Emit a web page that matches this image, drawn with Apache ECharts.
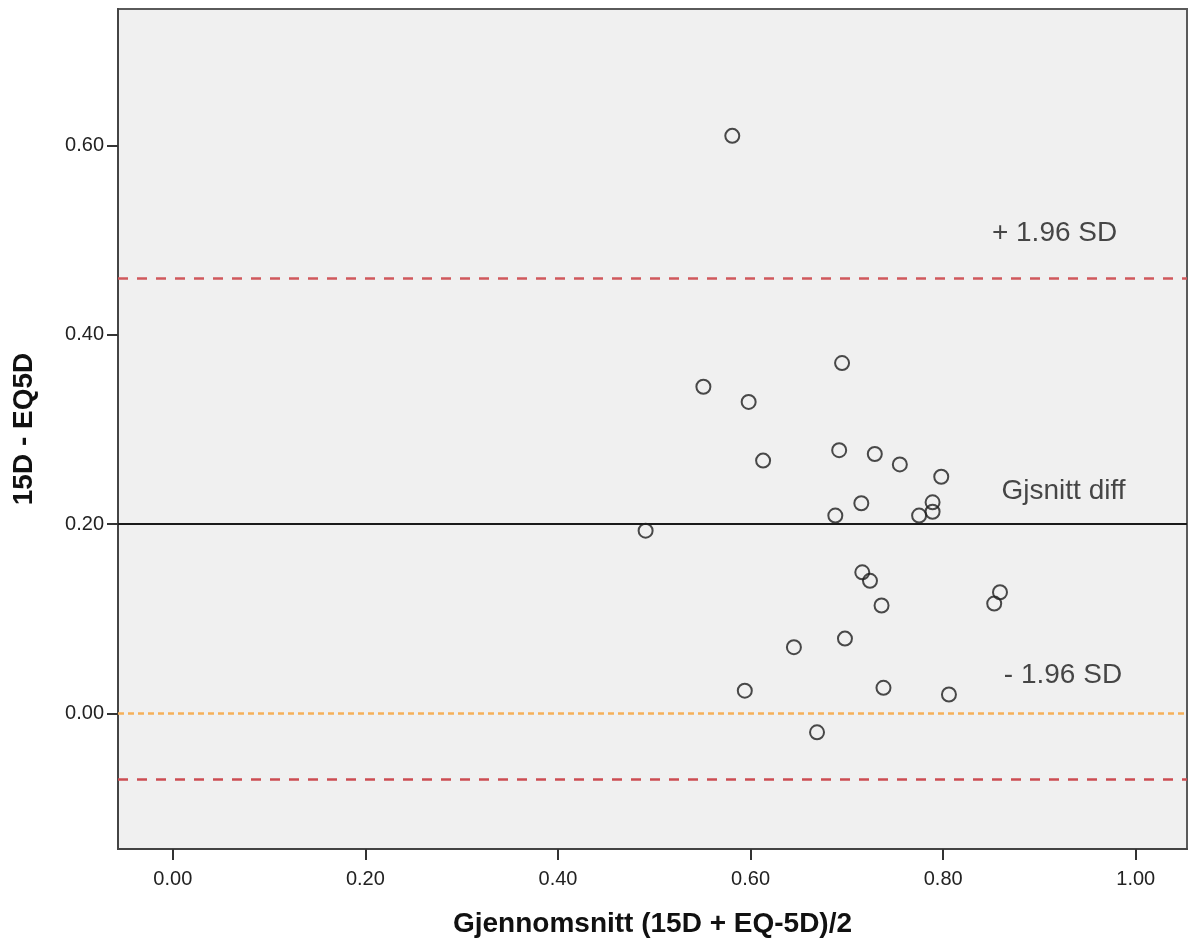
<!DOCTYPE html>
<html>
<head>
<meta charset="utf-8">
<script src="https://cdn.jsdelivr.net/npm/echarts@6/dist/echarts.min.js"></script>
<style>
html,body{margin:0;padding:0;background:#fff;}
#c{width:1189px;height:943px;}
</style>
</head>
<body>
<div id="c"></div>
<script>
// Mean of the two instruments (x) and difference 15D - EQ5D (y)
const meanValues = [0.581, 0.695, 0.551, 0.598, 0.613, 0.692, 0.729, 0.755, 0.798, 0.789, 0.715, 0.688, 0.775, 0.789, 0.491, 0.716, 0.724, 0.736, 0.859, 0.853, 0.698, 0.645, 0.594, 0.738, 0.806, 0.669];
const diffValues = [0.610, 0.370, 0.345, 0.329, 0.267, 0.278, 0.274, 0.263, 0.250, 0.223, 0.222, 0.209, 0.209, 0.213, 0.193, 0.149, 0.140, 0.114, 0.128, 0.116, 0.079, 0.070, 0.024, 0.027, 0.020, -0.020];

// Reference lines
const upperLimit = 0.4614;
const meanDiff = 0.1962;
const lowerLimit = -0.0687;
const zeroLine = 0;

// Tick labels
const xTicks = [0, 0.2, 0.4, 0.6, 0.8, 1.0];
const yTicks = [0, 0.2, 0.4, 0.6];

// Annotation texts [x, y, text]
const annotations = [
  [0.8506, 0.5067, '+ 1.96 SD'],
  [0.8606, 0.2347, 'Gjsnitt diff'],
  [0.8630, 0.0398, '- 1.96 SD']
];

const points = meanValues.map((x, i) => [x, diffValues[i]]);
const FONT = '"Liberation Sans", Arial, sans-serif';

const chart = echarts.init(document.getElementById('c'), null, {renderer: 'canvas'});
chart.setOption({
  animation: false,
  backgroundColor: '#ffffff',
  grid: {
    left: 118, right: 2, top: 9, bottom: 94,
    show: true, backgroundColor: '#f0f0f0', borderColor: '#5a5a5a', borderWidth: 2
  },
  xAxis: {
    type: 'value', min: -0.0569, max: 1.0532,
    name: 'Gjennomsnitt (15D + EQ-5D)/2', nameLocation: 'middle', nameGap: 61,
    nameTextStyle: {fontFamily: FONT, fontSize: 28, fontWeight: 'bold', color: '#111'},
    axisLine: {show: true, onZero: false, lineStyle: {color: '#444', width: 2}},
    axisTick: {show: true, length: 11, lineStyle: {color: '#333', width: 2}, customValues: xTicks},
    axisLabel: {customValues: xTicks, margin: 20, fontFamily: FONT, fontSize: 20, color: '#222',
      formatter: v => v.toFixed(2)},
    splitLine: {show: false}
  },
  yAxis: {
    type: 'value', min: -0.1432, max: 0.744,
    name: '15D - EQ5D', nameLocation: 'middle', nameGap: 80,
    nameTextStyle: {fontFamily: FONT, fontSize: 28, fontWeight: 'bold', color: '#111'},
    axisLine: {show: true, onZero: false, lineStyle: {color: '#444', width: 2}},
    axisTick: {show: true, length: 11, lineStyle: {color: '#333', width: 2}, customValues: yTicks},
    axisLabel: {customValues: yTicks, margin: 14, fontFamily: FONT, fontSize: 20, color: '#222',
      formatter: v => v.toFixed(2)},
    splitLine: {show: false}
  },
  series: [
    {
      type: 'scatter',
      data: points,
      symbol: 'circle',
      symbolSize: 14,
      itemStyle: {color: 'rgba(0,0,0,0)', borderColor: '#1e1e1e', borderWidth: 2},
      z: 5,
      markLine: {
        silent: true, symbol: 'none', label: {show: false},
        data: [
          {yAxis: upperLimit, lineStyle: {color: '#d0585c', width: 2.5, type: [10, 9]}},
          {yAxis: meanDiff, lineStyle: {color: '#1a1a1a', width: 1.8, type: 'solid'}},
          {yAxis: zeroLine, lineStyle: {color: '#f5b05a', width: 2.5, type: [6, 4]}},
          {yAxis: lowerLimit, lineStyle: {color: '#cc4c52', width: 2.5, type: [10, 9]}}
        ]
      }
    },
    {
      type: 'scatter',
      data: annotations,
      symbolSize: 0,
      silent: true,
      z: 6,
      label: {
        show: true, position: 'right', distance: 0,
        formatter: p => p.data[2],
        fontFamily: FONT, fontSize: 28, color: '#1a1a1a'
      }
    }
  ]
});
</script>
</body>
</html>
